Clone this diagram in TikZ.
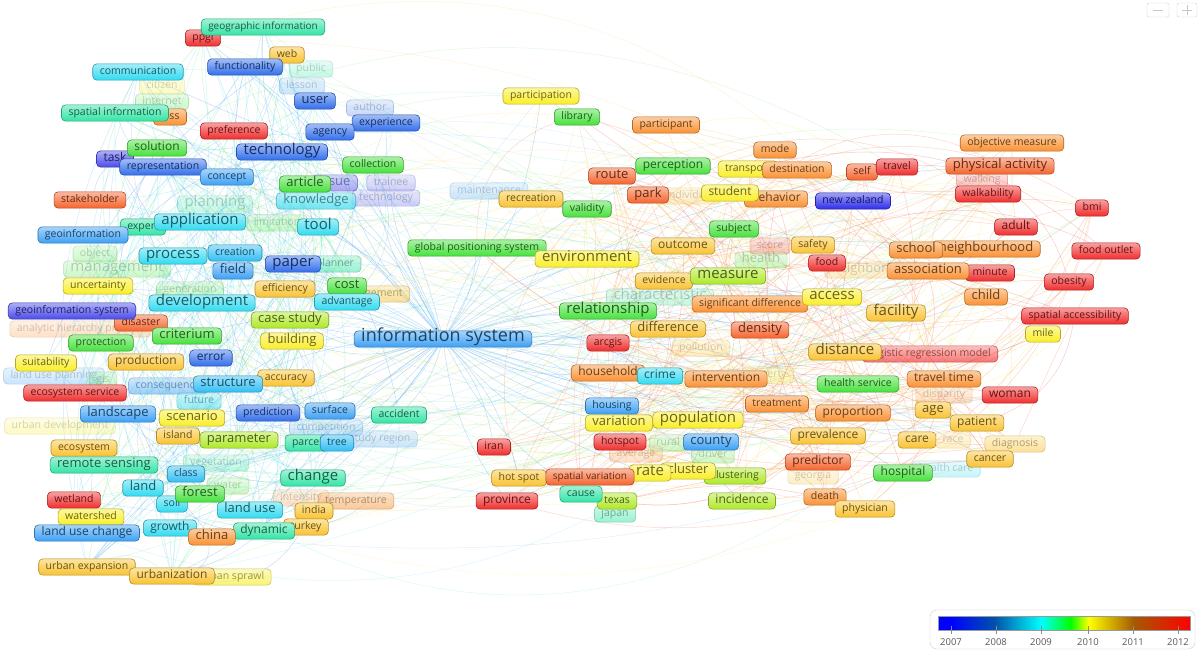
\documentclass[tikz,border=0pt]{standalone}
\usepackage{fontspec}
\setmainfont{Open Sans}
\usetikzlibrary{backgrounds}

% year colour scale
\definecolor{cbv}{RGB}{45,45,235}
\definecolor{cb}{RGB}{75,75,235}
\definecolor{cbl}{RGB}{50,110,235}
\definecolor{caz}{RGB}{60,160,245}
\definecolor{cca}{RGB}{50,190,245}
\definecolor{ccy}{RGB}{50,218,240}
\definecolor{cte}{RGB}{50,228,165}
\definecolor{cgr}{RGB}{70,225,60}
\definecolor{cyg}{RGB}{175,232,40}
\definecolor{cye}{RGB}{250,238,40}
\definecolor{cgo}{RGB}{250,195,50}
\definecolor{cor}{RGB}{250,145,50}
\definecolor{cro}{RGB}{245,100,45}
\definecolor{cre}{RGB}{240,45,45}

\pgfdeclarehorizontalshading{yearbar}{100bp}{%
  color(0bp)=(blue); color(25bp)=(blue); color(27.4bp)=(blue);
  color(36.3bp)=(rgb:red,0;green,125;blue,255);
  color(45.4bp)=(cyan);
  color(51.2bp)=(rgb:red,0;green,255;blue,0);
  color(54.8bp)=(yellow);
  color(63.7bp)=(rgb:red,255;green,140;blue,0);
  color(72.6bp)=(rgb:red,255;green,20;blue,0);
  color(75bp)=(red); color(100bp)=(red)}

\tikzset{
  kw/.style={rectangle, rounded corners=4pt, draw=#1!72!black, line width=0.6pt,
    top color=#1!45!white, bottom color=#1, text=#1!42!black,
    inner xsep=7pt, inner ysep=0.3em, text height=0.78em, text depth=0.24em},
  fade/.style={opacity=0.27},
  half/.style={opacity=0.5},
  s0/.style={font=\fontsize{10}{12}\selectfont},
  s1/.style={font=\fontsize{10.5}{12}\selectfont},
  s2/.style={font=\fontsize{12}{14}\selectfont},
  s3/.style={font=\fontsize{13}{15}\selectfont},
  s4/.style={font=\fontsize{15}{18}\selectfont},
  s5/.style={font=\fontsize{18}{21}\selectfont},
  lnk/.style={line width=0.5pt, opacity=0.25},
  ticklbl/.style={font=\fontsize{9.5}{11}\selectfont, text=black!65},
}

\begin{document}
\begin{tikzpicture}[x=1pt,y=-1pt]
\useasboundingbox (0,0) rectangle (1198,651);

% ---------- faint terms ----------
\node[kw=cye,s1,fade] (citizen) at (162,86) {citizen};
\node[kw=cgr,s1,fade] (internet) at (162,102) {internet};
\node[kw=caz,s1,fade] (lesson) at (302,86) {lesson};
\node[kw=cte,s1,fade] (public) at (311,69) {public};
\node[kw=cbl,s1,fade] (author) at (370,108) {author};
\node[kw=cb,s1,fade] (trainee) at (391,183) {trainee};
\node[kw=cb,s1,fade] (infotech) at (386,198) {technology};
\node[kw=cte,s4,fade] (planning) at (215,204) {planning};
\node[kw=cgr,s1,fade] (limit) at (277,223) {limitation};
\node[kw=cgr,s1,fade] (object) at (95,254) {object};
\node[kw=cgr,s4,fade] (manage) at (117,269) {management};
\node[kw=cgr,s1,fade] (generat) at (190,290) {generation};
\node[kw=cor,s1,fade] (ahp) at (80,329) {analytic hierarchy process};
\node[kw=caz,s1,fade] (lup) at (54,376) {land use planning};
\node[kw=cgr,s1,fade] (gisn) at (103,380) {gis};
\node[kw=cye,s1,fade] (urbdev) at (60,426) {urban development};
\node[kw=caz,s1,fade] (compet) at (326,428) {competition};
\node[kw=caz,s1,fade] (studyreg) at (380,439) {study region};
\node[kw=cte,s1,fade] (veget) at (216,463) {vegetation};
\node[kw=cgr,s1,fade] (water) at (228,486) {water};
\node[kw=cor,s1,fade] (intens) at (301,498) {intensity};
\node[kw=caz,s1,fade] (mainten) at (489,191) {maintenance};
\node[kw=cgo,s1,fade] (indiv) at (690,196) {individual};
\node[kw=cre,s1,fade] (score) at (770,246) {score};
\node[kw=cgr,s3,fade] (health) at (761,260) {health};
\node[kw=cgo,s3,fade] (neighb) at (875,270) {neighborhood};
\node[kw=cte,s4,fade] (charact) at (660,297) {characteristic};
\node[kw=cgo,s1,fade] (pollut) at (701,348) {pollution};
\node[kw=cye,s1,fade] (poverty) at (768,375) {poverty};
\node[kw=cor,s1,fade] (dispar) at (944,395) {disparity};
\node[kw=cgr,s1,fade] (rural) at (668,443) {rural};
\node[kw=cor,s1,fade] (average) at (636,454) {average};
\node[kw=cgr,s1,fade] (driver) at (713,455) {driver};
\node[kw=cgo,s1,fade] (georgia) at (813,476) {georgia};
\node[kw=cgo,s1,fade] (race) at (953,440) {race};
\node[kw=ccy,s1,fade] (hcare) at (946,469) {health care};
\node[kw=cre,s1,fade] (walking) at (982,180) {walking};

% ---------- half-visible terms ----------
\node[kw=cb,s3,half] (issue) at (335,183) {issue};
\node[kw=ccy,s3,opacity=.7] (knowl) at (316,201) {knowledge};
\node[kw=cte,s1,half] (planner) at (335,264) {planner};
\node[kw=cgo,s1,half] (engage) at (372,294) {engagement};
\node[kw=caz,s1,half] (conseq) at (168,386) {consequence};
\node[kw=ccy,s1,half] (future) at (199,401) {future};
\node[kw=cor,s1,half] (temper) at (356,501) {temperature};
\node[kw=cye,s1,opacity=.65] (sprawl) at (232,577) {urban sprawl};
\node[kw=cgo,s1,half] (diagn) at (1015,444) {diagnosis};
\node[kw=cte,s1,half] (japan) at (615,514) {japan};
\node[kw=cre,s1,opacity=.65] (logreg) at (930,354) {logistic regression model};

% ---------- left cluster ----------
\node[kw=cre,s1] (ppgi) at (203,38) {ppgi};
\node[kw=cte,s0] (geoinf) at (263,27) {geographic information};
\node[kw=cgo,s1] (web) at (287,55) {web};
\node[kw=cbl,s1] (func) at (245,67) {functionality};
\node[kw=ccy,s1] (comm) at (138,72) {communication};
\node[kw=cbl,s3] (user) at (315,101) {user};
\node[kw=cbl,s1] (exper) at (386,123) {experience};
\node[kw=cor,s1] (lossn) at (170,117) {loss};
\node[kw=cte,s1] (spinf) at (115,113) {spatial information};
\node[kw=cre,s1] (pref) at (234,131) {preference};
\node[kw=cbl,s1] (agency) at (330,132) {agency};
\node[kw=cbl,s4] (techn) at (282,152) {technology};
\node[kw=cb,s2] (task) at (115,159) {task};
\node[kw=cgr,s2] (solut) at (157,148) {solution};
\node[kw=cbl,s1] (repr) at (163,167) {representation};
\node[kw=caz,s1] (concept) at (227,177) {concept};
\node[kw=cgr,s1] (collect) at (373,165) {collection};
\node[kw=cgr,s3] (article) at (305,184) {article};
\node[kw=cro,s1] (stake) at (90,200) {stakeholder};
\node[kw=cte,s1] (expert) at (143,227) {expert};
\node[kw=caz,s1] (geoi) at (83,235) {geoinformation};
\node[kw=ccy,s4] (appl) at (200,222) {application};
\node[kw=ccy,s4] (tool) at (318,227) {tool};
\node[kw=ccy,s4] (process) at (173,256) {process};
\node[kw=cca,s1] (creation) at (235,253) {creation};
\node[kw=caz,s3] (field) at (233,271) {field};
\node[kw=cbl,s4] (paper) at (293,264) {paper};
\node[kw=cye,s1] (uncert) at (98,286) {uncertainty};
\node[kw=cgo,s1] (effic) at (285,289) {efficiency};
\node[kw=cgr,s3] (cost) at (347,286) {cost};
\node[kw=ccy,s1] (advant) at (347,302) {advantage};
\node[kw=ccy,s4] (devel) at (202,303) {development};
\node[kw=cro,s1] (disaster) at (141,323) {disaster};
\node[kw=cb,s1] (geoisys) at (72,311) {geoinformation system};
\node[kw=cyg,s3] (casest) at (290,320) {case study};
\node[kw=cgr,s3] (criter) at (187,336) {criterium};
\node[kw=cgr,s1] (protect) at (101,343) {protection};
\node[kw=cye,s3] (building) at (292,341) {building};
\node[kw=cye,s1] (suit) at (46,363) {suitability};
\node[kw=cgo,s2] (produc) at (146,362) {production};
\node[kw=cbl,s2] (error) at (211,358) {error};
\node[kw=cgo,s1] (accur) at (286,378) {accuracy};
\node[kw=cca,s3] (struct) at (228,384) {structure};
\node[kw=cre,s1] (ecoserv) at (75,393) {ecosystem service};
\node[kw=cgo,s1] (island) at (178,436) {island};
\node[kw=caz,s3] (landsc) at (118,414) {landscape};
\node[kw=cye,s3] (scen) at (192,418) {scenario};
\node[kw=cbl,s1] (pred) at (268,413) {prediction};
\node[kw=caz,s1] (surface) at (330,411) {surface};
\node[kw=cte,s1] (accid) at (399,415) {accident};
\node[kw=cyg,s3] (param) at (239,440) {parameter};
\node[kw=cte,s1] (parcel) at (307,443) {parcel};
\node[kw=cca,s1] (tree) at (337,443) {tree};
\node[kw=cgo,s1] (ecosys) at (84,448) {ecosystem};
\node[kw=cte,s3] (remsens) at (104,465) {remote sensing};
\node[kw=cca,s1] (class) at (186,474) {class};
\node[kw=cte,s4] (change) at (313,478) {change};
\node[kw=ccy,s3] (land) at (143,488) {land};
\node[kw=ccy,s1] (soil) at (172,504) {soil};
\node[kw=cgr,s3] (forest) at (200,494) {forest};
\node[kw=cre,s1] (wetland) at (74,500) {wetland};
\node[kw=ccy,s3] (landuse) at (250,510) {land use};
\node[kw=cgo,s1] (india) at (314,511) {india};
\node[kw=cye,s1] (watershed) at (91,517) {watershed};
\node[kw=cgo,s1] (turkey) at (306,527) {turkey};
\node[kw=caz,s2] (luc) at (87,533) {land use change};
\node[kw=ccy,s2] (growth) at (170,528) {growth};
\node[kw=cte,s2] (dynamic) at (264,531) {dynamic};
\node[kw=cor,s3] (china) at (212,537) {china};
\node[kw=cgo,s1] (urbexp) at (87,567) {urban expansion};
\node[kw=cgo,s2] (urbaniz) at (172,576) {urbanization};

% ---------- right cluster ----------
\node[kw=cye,s1] (particip) at (541,96) {participation};
\node[kw=cgr,s1] (library) at (577,117) {library};
\node[kw=cor,s1] (partic) at (666,125) {participant};
\node[kw=cgo,s1] (recre) at (531,199) {recreation};
\node[kw=cgr,s1] (valid) at (587,209) {validity};
\node[kw=cro,s3] (route) at (612,176) {route};
\node[kw=cgr,s2] (percep) at (673,166) {perception};
\node[kw=cor,s1] (mode) at (775,150) {mode};
\node[kw=cye,s1] (transp) at (748,169) {transport};
\node[kw=cor,s1] (dest) at (797,170) {destination};
\node[kw=cro,s1] (self) at (862,172) {self};
\node[kw=cre,s1] (travel) at (897,167) {travel};
\node[kw=cro,s3] (park) at (648,195) {park};
\node[kw=cor,s2] (behav) at (776,199) {behavior};
\node[kw=cye,s2] (student) at (730,193) {student};
\node[kw=cbv,s1] (nz) at (853,201) {new zealand};
\node[kw=cgr,s1] (gps) at (477,248) {global positioning system};
\node[kw=cye,s4] (envir) at (587,259) {environment};
\node[kw=cgr,s1] (subject) at (734,229) {subject};
\node[kw=cgo,s2] (outcome) at (683,246) {outcome};
\node[kw=cgo,s1] (safety) at (813,245) {safety};
\node[kw=cre,s1] (food) at (827,263) {food};
\node[kw=cgo,s1] (evid) at (664,281) {evidence};
\node[kw=cyg,s4] (measure) at (728,276) {measure};
\node[kw=cor,s1] (sigdiff) at (750,304) {significant difference};
\node[kw=cye,s4] (access) at (832,297) {access};
\node[kw=cgr,s4] (relat) at (608,311) {relationship};
\node[kw=cgo,s3] (diff) at (668,329) {difference};
\node[kw=cro,s3] (density) at (760,330) {density};
\node[kw=cre,s1] (arcgis) at (608,343) {arcgis};
\node[kw=cgo,s4] (facil) at (896,313) {facility};
\node[kw=cor,s3] (neigh) at (986,249) {neighbourhood};
\node[kw=cor,s3] (school) at (916,250) {school};
\node[kw=cre,s1] (minute) at (990,273) {minute};
\node[kw=cor,s3] (assoc) at (928,271) {association};
\node[kw=cor,s3] (child) at (986,297) {child};
\node[kw=cgo,s4] (distance) at (845,352) {distance};
\node[kw=cor,s2] (househ) at (608,373) {household};
\node[kw=ccy,s2] (crime) at (660,376) {crime};
\node[kw=cor,s2] (interv) at (726,379) {intervention};
\node[kw=cgr,s1] (hserv) at (858,384) {health service};
\node[kw=cor,s2] (ttime) at (944,379) {travel time};
\node[kw=cre,s2] (woman) at (1010,395) {woman};
\node[kw=cor,s1] (treat) at (777,404) {treatment};
\node[kw=cor,s2] (propor) at (853,413) {proportion};
\node[kw=cgo,s3] (age) at (933,410) {age};
\node[kw=cgo,s2] (patient) at (977,423) {patient};
\node[kw=caz,s1] (housing) at (612,406) {housing};
\node[kw=cye,s3] (variation) at (619,423) {variation};
\node[kw=cye,s4] (popul) at (698,420) {population};
\node[kw=cre,s1] (hotspot) at (620,442) {hotspot};
\node[kw=caz,s3] (county) at (711,442) {county};
\node[kw=cgo,s2] (preval) at (828,436) {prevalence};
\node[kw=cgo,s2] (care) at (917,440) {care};
\node[kw=cgo,s1] (cancer) at (990,459) {cancer};
\node[kw=cro,s2] (predictor) at (818,462) {predictor};
\node[kw=cgr,s2] (hospital) at (903,473) {hospital};
\node[kw=cyg,s1] (clustering) at (735,476) {clustering};
\node[kw=cye,s3] (cluster) at (688,471) {cluster};
\node[kw=cye,s4] (rate) at (650,473) {rate};
\node[kw=cgo,s1] (hotsp) at (519,478) {hot spot};
\node[kw=cro,s0] (spvar) at (590,477) {spatial variation};
\node[kw=cre,s1] (iran) at (494,447) {iran};
\node[kw=cre,s2] (province) at (507,501) {province};
\node[kw=cyg,s1] (texas) at (617,501) {texas};
\node[kw=cte,s1] (cause) at (581,494) {cause};
\node[kw=cyg,s2] (incid) at (742,501) {incidence};
\node[kw=cor,s1] (death) at (825,497) {death};
\node[kw=cgo,s1] (physician) at (865,509) {physician};
\node[kw=cor,s1] (objm) at (1012,143) {objective measure};
\node[kw=cro,s3] (physact) at (1000,166) {physical activity};
\node[kw=cre,s1] (walkab) at (988,194) {walkability};
\node[kw=cre,s1] (bmi) at (1092,208) {bmi};
\node[kw=cre,s2] (adult) at (1016,227) {adult};
\node[kw=cre,s1] (foodout) at (1106,251) {food outlet};
\node[kw=cre,s1] (obesity) at (1069,282) {obesity};
\node[kw=cre,s1] (spacc) at (1075,316) {spatial accessibility};
\node[kw=cye,s1] (mile) at (1043,334) {mile};

% the central term on top
\node[kw=caz,s5] (infosys) at (443,339) {information system};

% ---------- co-occurrence links ----------
\def\Lset{{"ppgi","geoinf","web","func","comm","user","exper","spinf","pref","agency","techn","task","solut","repr","concept","collect","article","stake","expert","geoi","appl","tool","process","creation","field","paper","uncert","effic","cost","advant","devel","disaster","geoisys","casest","criter","protect","building","suit","produc","error","accur","struct","ecoserv","island","landsc","scen","pred","surface","accid","param","parcel","tree","ecosys","remsens","class","change","land","soil","forest","wetland","landuse","india","watershed","turkey","luc","growth","dynamic","china","urbexp","urbaniz","knowl","manage","planning"}}
\def\Rset{{"particip","library","partic","recre","valid","route","percep","mode","transp","dest","self","travel","park","behav","student","nz","gps","envir","subject","outcome","safety","food","evid","measure","sigdiff","access","relat","diff","density","arcgis","facil","neigh","school","minute","assoc","child","distance","househ","crime","interv","hserv","ttime","woman","treat","propor","age","patient","housing","variation","popul","hotspot","county","preval","care","cancer","predictor","hospital","clustering","cluster","rate","hotsp","spvar","iran","province","texas","cause","incid","death","physician","objm","physact","walkab","bmi","adult","foodout","obesity","spacc","mile","logreg","diagn"}}
\def\Lcol{{"caz","ccy","cte","cgr","cbl","cca"}}
\def\Rcol{{"cor","cro","cre","cgo","cye","cro"}}
\def\Xcol{{"cgr","cye","ccy","cgo","cte","caz"}}
\pgfmathtruncatemacro\NL{dim(\Lset)-1}
\pgfmathtruncatemacro\NR{dim(\Rset)-1}
\pgfmathsetseed{7}

\begin{scope}[on background layer]
  \fill[white] (0,0) rectangle (1198,651);
  % central term to the rest of the map
  \foreach \t [count=\i] in {ppgi,geoinf,func,comm,user,exper,spinf,agency,techn,repr,concept,collect,article,appl,tool,process,field,paper,devel,casest,criter,building,struct,landsc,scen,pred,surface,accid,param,tree,change,land,forest,landuse,luc,growth,dynamic,urbaniz,gps,envir,relat,diff,measure,access,househ,crime,popul,county,rate,housing,variation,iran,province,hotsp,cause,incid,distance,hospital,care,cancer,patient,facil,school,percep,particip,recre,mainten,outcome,evid,density,hserv,ttime,woman,physact,child,neigh}{
    \pgfmathtruncatemacro\bb{mod(\i,2)==0 ? 14 : -14}
    \draw[lnk, draw=caz, opacity=0.32] (infosys) to[bend left=\bb] (\t);
  }
  % within the left cluster
  \foreach \k in {1,...,240}{
    \pgfmathrandominteger{\ia}{0}{\NL}
    \pgfmathrandominteger{\ib}{0}{\NL}
    \pgfmathsetmacro{\na}{\Lset[\ia]}
    \pgfmathsetmacro{\nb}{\Lset[\ib]}
    \pgfmathrandominteger{\bb}{-40}{40}
    \pgfmathrandominteger{\cc}{0}{5}
    \pgfmathsetmacro{\col}{\Lcol[\cc]}
    \ifx\na\nb\else
      \draw[lnk, draw=\col] (\na) to[bend left=\bb] (\nb);
    \fi
  }
  % within the right cluster
  \foreach \k in {1,...,270}{
    \pgfmathrandominteger{\ia}{0}{\NR}
    \pgfmathrandominteger{\ib}{0}{\NR}
    \pgfmathsetmacro{\na}{\Rset[\ia]}
    \pgfmathsetmacro{\nb}{\Rset[\ib]}
    \pgfmathrandominteger{\bb}{-45}{45}
    \pgfmathrandominteger{\cc}{0}{5}
    \pgfmathsetmacro{\col}{\Rcol[\cc]}
    \ifx\na\nb\else
      \draw[lnk, draw=\col] (\na) to[bend left=\bb] (\nb);
    \fi
  }
  % between the two clusters
  \foreach \k in {1,...,130}{
    \pgfmathrandominteger{\ia}{0}{\NL}
    \pgfmathrandominteger{\ib}{0}{\NR}
    \pgfmathsetmacro{\na}{\Lset[\ia]}
    \pgfmathsetmacro{\nb}{\Rset[\ib]}
    \pgfmathrandominteger{\bb}{-35}{35}
    \pgfmathrandominteger{\cc}{0}{5}
    \pgfmathsetmacro{\col}{\Xcol[\cc]}
    \draw[lnk, draw=\col, opacity=0.17] (\na) to[bend left=\bb] (\nb);
  }
\end{scope}

% ---------- window controls ----------
\node[draw=black!18, rounded corners=2pt, minimum width=22pt, minimum height=14pt, inner sep=0pt] (zoomout) at (1158,10) {};
\draw[black!22, line width=1pt] ([xshift=-5pt]zoomout.center) -- ([xshift=5pt]zoomout.center);
\node[draw=black!18, rounded corners=2pt, minimum width=20pt, minimum height=14pt, inner sep=0pt] (zoomin) at (1187,10) {};
\draw[black!22, line width=1pt] ([xshift=-5pt]zoomin.center) -- ([xshift=5pt]zoomin.center)
  ([yshift=-5pt]zoomin.center) -- ([yshift=5pt]zoomin.center);

% ---------- colour legend ----------
\node[draw=black!20, fill=white, rounded corners=7pt, minimum width=265pt, minimum height=39pt, inner sep=0pt] (legend) at (1062.5,629.5) {};
\node[draw=black!40, line width=0.5pt, shading=yearbar, minimum width=252pt, minimum height=14pt, inner sep=0pt] (bar) at (1064.5,623.5) {};
\foreach \yr/\xx in {2007/951,2008/996,2009/1041,2010/1088,2011/1133,2012/1178}{
  \coordinate (t\yr) at (\xx,626);
  \draw[black!45, line width=0.6pt] (t\yr) -- ++(0,8);
  \node[ticklbl] (y\yr) at (\xx,642) {\yr};
}
\end{tikzpicture}
\end{document}
